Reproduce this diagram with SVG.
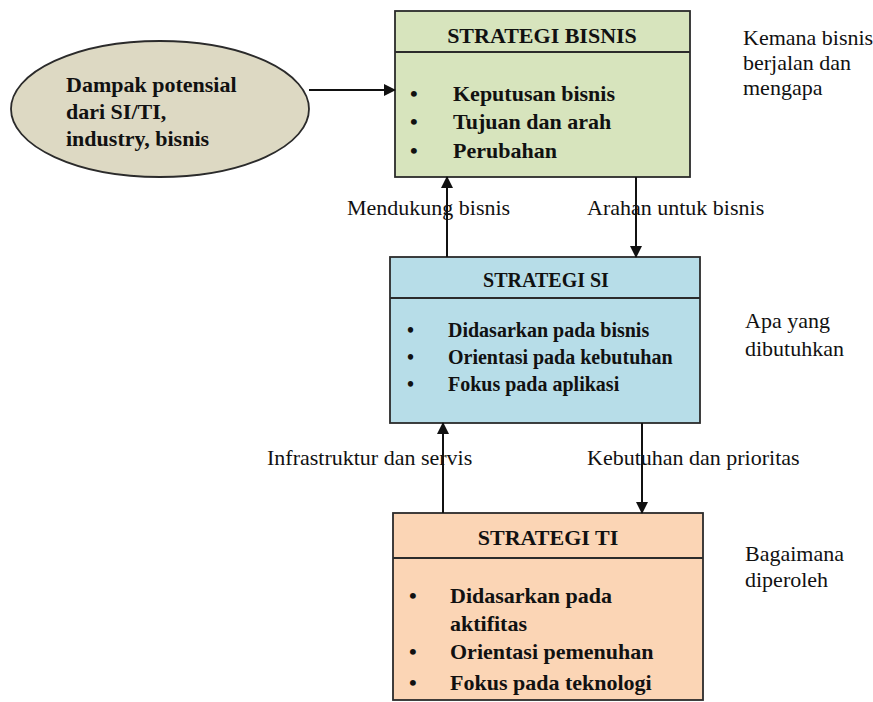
<svg xmlns="http://www.w3.org/2000/svg" width="873" height="702" viewBox="0 0 873 702">
<style>
.box{stroke:#2b2b2b;stroke-width:1.8}
.t{font-family:"Liberation Serif","Times New Roman",serif;fill:#111}
.b{font-weight:bold}
.h{font-size:22px;font-weight:bold;text-anchor:middle}
.n{font-size:22px}
.s{font-size:20px;font-weight:bold}
.conn line{stroke:#111;stroke-width:2}
</style>
<defs>
<marker id="ah" markerWidth="12" markerHeight="12" viewBox="0 0 12 12" refX="11" refY="6" orient="auto" markerUnits="userSpaceOnUse">
<path d="M0,0 L12,6 L0,12 Z" fill="#111"/>
</marker>
</defs>
<rect width="873" height="702" fill="#fff"/>

<g id="dampak">
<ellipse class="box" cx="160" cy="109" rx="149" ry="68" fill="#ddd9c3"/>
<text class="t b n" x="66" y="92">Dampak potensial</text>
<text class="t b n" x="66" y="119">dari SI/TI,</text>
<text class="t b n" x="66" y="146">industry, bisnis</text>
</g>

<g id="strategi-bisnis">
<rect class="box" x="395" y="11" width="295" height="166" fill="#d7e4bd"/>
<line class="box" x1="395" y1="52" x2="690" y2="52"/>
<text class="t h" x="542" y="43">STRATEGI BISNIS</text>
<text class="t b n" x="410" y="101">•</text><text class="t b n" x="453" y="101">Keputusan bisnis</text>
<text class="t b n" x="410" y="129">•</text><text class="t b n" x="453" y="129">Tujuan dan arah</text>
<text class="t b n" x="410" y="158">•</text><text class="t b n" x="453" y="158">Perubahan</text>
</g>
<g id="note-bisnis">
<text class="t n" x="743" y="45">Kemana bisnis</text>
<text class="t n" x="743" y="70">berjalan dan</text>
<text class="t n" x="743" y="95">mengapa</text>
</g>

<g id="strategi-si">
<rect class="box" x="390" y="257" width="310" height="166" fill="#b7dde8"/>
<line class="box" x1="390" y1="298" x2="700" y2="298"/>
<text class="t h" x="546" y="287" style="font-size:20px">STRATEGI SI</text>
<text class="t s" x="407" y="337">•</text><text class="t s" x="448" y="337">Didasarkan pada bisnis</text>
<text class="t s" x="407" y="364">•</text><text class="t s" x="448" y="364">Orientasi pada kebutuhan</text>
<text class="t s" x="407" y="391">•</text><text class="t s" x="448" y="391">Fokus pada aplikasi</text>
</g>
<g id="note-si">
<text class="t n" x="745" y="328">Apa yang</text>
<text class="t n" x="745" y="356">dibutuhkan</text>
</g>

<g id="strategi-ti">
<rect class="box" x="393" y="513" width="310" height="187" fill="#fbd5b5"/>
<line class="box" x1="393" y1="558" x2="703" y2="558"/>
<text class="t h" x="548" y="545">STRATEGI TI</text>
<text class="t b n" x="409" y="603">•</text><text class="t b n" x="450" y="603">Didasarkan pada</text>
<text class="t b n" x="450" y="631">aktifitas</text>
<text class="t b n" x="409" y="659">•</text><text class="t b n" x="450" y="659">Orientasi pemenuhan</text>
<text class="t b n" x="409" y="690">•</text><text class="t b n" x="450" y="690">Fokus pada teknologi</text>
</g>
<g id="note-ti">
<text class="t n" x="745" y="561">Bagaimana</text>
<text class="t n" x="745" y="587">diperoleh</text>
</g>

<g id="connectors" class="conn">
<line x1="309" y1="90" x2="395" y2="90" marker-end="url(#ah)"/>
<line x1="447" y1="257" x2="447" y2="177" marker-end="url(#ah)"/>
<line x1="636" y1="177" x2="636" y2="257" marker-end="url(#ah)"/>
<line x1="443" y1="513" x2="443" y2="423" marker-end="url(#ah)"/>
<line x1="642" y1="423" x2="642" y2="513" marker-end="url(#ah)"/>
</g>
<g id="labels">
<text class="t n" x="347" y="215">Mendukung bisnis</text>
<text class="t n" x="587" y="215">Arahan untuk bisnis</text>
<text class="t n" x="267" y="465">Infrastruktur dan servis</text>
<text class="t n" x="587" y="465">Kebutuhan dan prioritas</text>
</g>
</svg>
